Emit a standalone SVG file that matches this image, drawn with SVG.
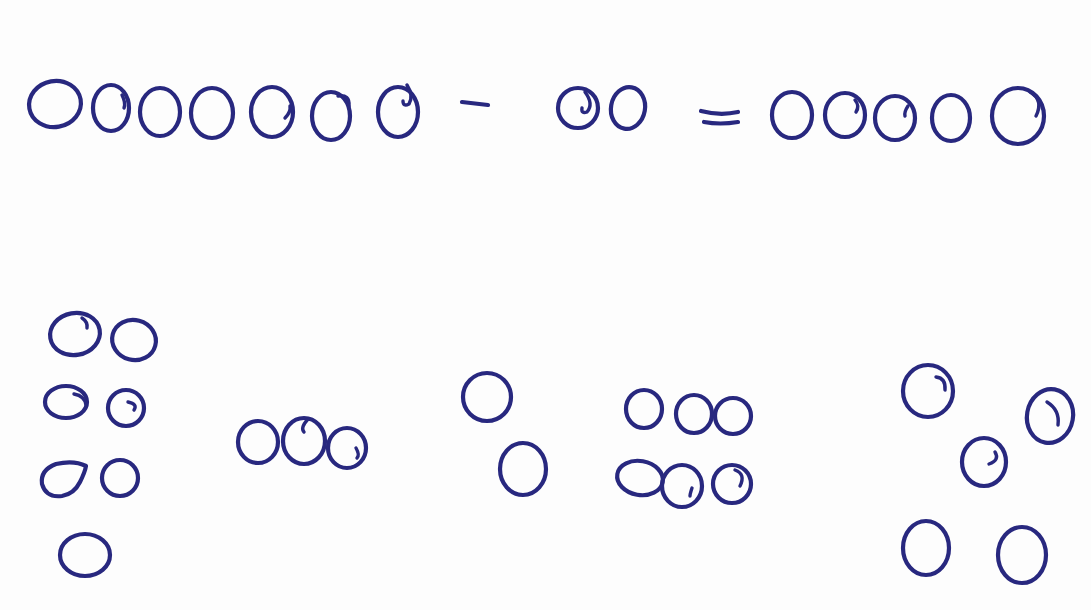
<svg xmlns="http://www.w3.org/2000/svg" width="1091" height="610" viewBox="0 0 1091 610">
<style>
.c{fill:none;stroke:#28287f;stroke-width:4.2;stroke-linecap:round;stroke-linejoin:round}
.t{fill:none;stroke:#28287f;stroke-width:3.4;stroke-linecap:round}
</style>
<rect width="1091" height="610" fill="#fdfdfd"/>
<g id="equation">
<ellipse class="c" cx="55" cy="104" rx="26" ry="23" transform="rotate(-10 55 104)"/>
<ellipse class="c" cx="111" cy="108" rx="18" ry="23"/>
<path class="t" d="M122 95 Q126 103 124 108"/>
<ellipse class="c" cx="160" cy="112" rx="20" ry="24"/>
<ellipse class="c" cx="212" cy="113" rx="21" ry="25"/>
<ellipse class="c" cx="272" cy="112" rx="21" ry="25"/>
<path class="t" d="M285 118 Q291 112 290 106"/>
<ellipse class="c" cx="331" cy="116" rx="19" ry="24"/>
<path class="t" d="M338 96 Q350 94 349 106"/>
<ellipse class="c" cx="398" cy="112" rx="20" ry="25"/>
<path class="t" d="M407 85 Q414 96 409 104 Q403 107 403 101"/>
<path class="c" d="M462 102 L488 105"/>
<ellipse class="c" cx="578" cy="108" rx="20" ry="20"/>
<path class="t" d="M585 92 Q594 104 587 112 Q581 114 582 108"/>
<ellipse class="c" cx="628" cy="108" rx="17" ry="21" transform="rotate(10 628 108)"/>
<path class="c" d="M701 111 Q720 116 738 112"/>
<path class="c" d="M704 122 Q720 125 738 122"/>
<ellipse class="c" cx="792" cy="115" rx="20" ry="23"/>
<ellipse class="c" cx="845" cy="115" rx="20" ry="22"/>
<path class="t" d="M855 100 Q860 106 856 112"/>
<ellipse class="c" cx="895" cy="118" rx="20" ry="22"/>
<path class="t" d="M908 106 Q904 112 905 116"/>
<ellipse class="c" cx="951" cy="118" rx="19" ry="23"/>
<ellipse class="c" cx="1018" cy="116" rx="26" ry="28"/>
<path class="t" d="M1030 92 Q1044 100 1036 116"/>
</g>
<g id="group-pairs">
<ellipse class="c" cx="75" cy="334" rx="25" ry="21" transform="rotate(-10 75 334)"/>
<path class="t" d="M82 318 Q88 322 87 328"/>
<ellipse class="c" cx="134" cy="340" rx="22" ry="20" transform="rotate(15 134 340)"/>
<ellipse class="c" cx="66" cy="402" rx="21" ry="16"/>
<path class="t" d="M74 394 Q85 396 86 405"/>
<ellipse class="c" cx="126" cy="408" rx="18" ry="18"/>
<path class="t" d="M128 402 Q138 404 134 410"/>
<path class="c" d="M86 466 Q74 460 56 464 Q40 470 42 484 Q46 498 62 496 Q74 494 80 482 Q85 472 86 466 Z"/>
<ellipse class="c" cx="120" cy="478" rx="18" ry="18"/>
<ellipse class="c" cx="85" cy="555" rx="25" ry="21"/>
</g>
<g id="group-three">
<ellipse class="c" cx="258" cy="442" rx="20" ry="21"/>
<ellipse class="c" cx="304" cy="441" rx="21" ry="23"/>
<path class="t" d="M308 419 Q300 428 304 432"/>
<ellipse class="c" cx="347" cy="448" rx="19" ry="20"/>
<path class="t" d="M356 448 Q360 455 357 458"/>
</g>
<g id="group-two">
<ellipse class="c" cx="487" cy="397" rx="24" ry="24"/>
<ellipse class="c" cx="523" cy="469" rx="23" ry="26"/>
</g>
<g id="group-six">
<ellipse class="c" cx="644" cy="409" rx="18" ry="19"/>
<ellipse class="c" cx="694" cy="414" rx="18" ry="19"/>
<ellipse class="c" cx="733" cy="416" rx="18" ry="18"/>
<ellipse class="c" cx="640" cy="478" rx="23" ry="17" transform="rotate(10 640 478)"/>
<ellipse class="c" cx="682" cy="486" rx="20" ry="21"/>
<path class="t" d="M692 488 Q690 494 690 496"/>
<ellipse class="c" cx="732" cy="484" rx="19" ry="19"/>
<path class="t" d="M735 470 Q746 474 740 486"/>
</g>
<g id="group-five">
<ellipse class="c" cx="928" cy="391" rx="25" ry="26"/>
<path class="t" d="M936 377 Q946 378 945 390"/>
<ellipse class="c" cx="1050" cy="416" rx="23" ry="27" transform="rotate(10 1050 416)"/>
<path class="t" d="M1047 402 Q1060 410 1058 425"/>
<ellipse class="c" cx="984" cy="462" rx="22" ry="24"/>
<path class="t" d="M989 464 Q1000 460 995 452"/>
<ellipse class="c" cx="926" cy="548" rx="23" ry="27"/>
<ellipse class="c" cx="1022" cy="555" rx="24" ry="28"/>
</g>
</svg>
